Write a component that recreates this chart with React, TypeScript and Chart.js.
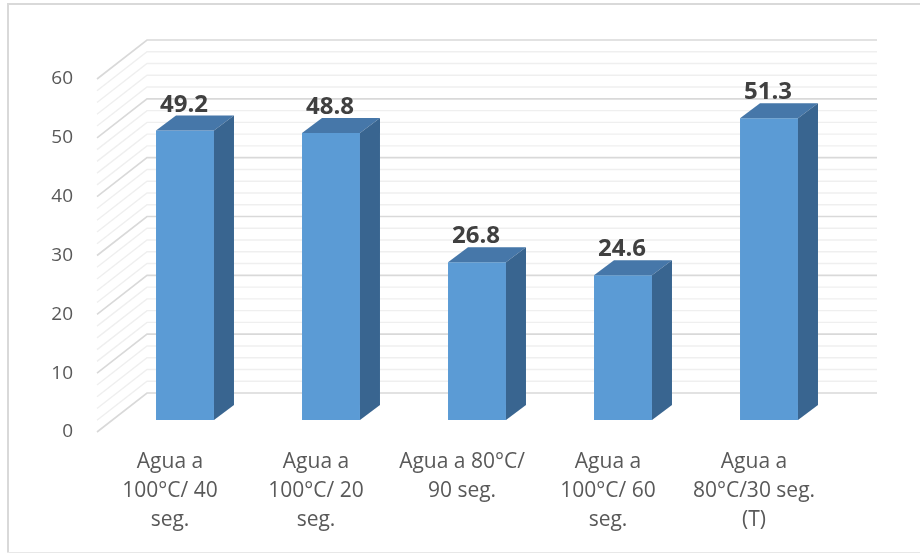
import React, { useEffect, useRef } from "react";
import { Chart, registerables } from "chart.js";

Chart.register(...registerables);

const categories: string[][] = [
  ["Agua a", "100°C/ 40", "seg."],
  ["Agua a", "100°C/ 20", "seg."],
  ["Agua a 80°C/", "90 seg."],
  ["Agua a", "100°C/ 60", "seg."],
  ["Agua a", "80°C/30 seg.", "(T)"],
];
const values: number[] = [49.2, 48.8, 26.8, 24.6, 51.3];
const yMin = 0;
const yMax = 60;
const majorStep = 10;
const minorStep = 2;

// 3D geometry (pixels)
const WALL_DX = 50;
const WALL_DY = -39;
const BAR_DX = 15;
const BAR_DY = -12;
const SIDE_DX = 20;
const SIDE_DY = -15;

const FRONT_COLOR = "#5B9BD5";
const TOP_COLOR = "#4677A9";
const SIDE_COLOR = "#396590";

const threeDPlugin = {
  id: "threeD",
  beforeDraw(chart: any) {
    const { ctx } = chart;
    ctx.save();
    ctx.fillStyle = "#FFFFFF";
    ctx.fillRect(0, 0, chart.width, chart.height);
    ctx.fillStyle = "#D9D9D9";
    ctx.fillRect(7, 3, chart.width - 7, 2);
    ctx.fillRect(7, 3, 2, 550);
    ctx.fillStyle = "#E8E8E8";
    ctx.fillRect(7, 552, chart.width - 7, 1);
    ctx.restore();
  },
  beforeDatasetsDraw(chart: any) {
    const { ctx, chartArea } = chart;
    const y = chart.scales.y;
    ctx.save();
    for (let v = yMin; v <= yMax; v += minorStep) {
      const major = v % majorStep === 0;
      const py = y.getPixelForValue(v);
      ctx.strokeStyle = major ? "#D9D9D9" : "#EFEFEF";
      ctx.lineWidth = major ? 1.6 : 1.4;
      ctx.beginPath();
      ctx.moveTo(chartArea.left, py);
      ctx.lineTo(chartArea.left + WALL_DX, py + WALL_DY);
      ctx.lineTo(chartArea.right + WALL_DX, py + WALL_DY);
      ctx.stroke();
    }
    ctx.restore();
    ctx.save();
    ctx.translate(BAR_DX, BAR_DY);
  },
  afterDatasetsDraw(chart: any) {
    const { ctx } = chart;
    const meta = chart.getDatasetMeta(0);
    meta.data.forEach((bar: any) => {
      const { x, y, width, base } = bar.getProps(["x", "y", "width", "base"], true);
      const l = x - width / 2;
      const r = x + width / 2;
      ctx.fillStyle = TOP_COLOR;
      ctx.beginPath();
      ctx.moveTo(l, y);
      ctx.lineTo(r, y);
      ctx.lineTo(r + SIDE_DX, y + SIDE_DY);
      ctx.lineTo(l + SIDE_DX, y + SIDE_DY);
      ctx.closePath();
      ctx.fill();
      ctx.fillStyle = SIDE_COLOR;
      ctx.beginPath();
      ctx.moveTo(r, y);
      ctx.lineTo(r, base);
      ctx.lineTo(r + SIDE_DX, base + SIDE_DY);
      ctx.lineTo(r + SIDE_DX, y + SIDE_DY);
      ctx.closePath();
      ctx.fill();
    });
    ctx.restore();
    ctx.save();
    ctx.font = 'bold 24px "Open Sans"';
    ctx.fillStyle = "#404040";
    ctx.textAlign = "center";
    ctx.textBaseline = "alphabetic";
    meta.data.forEach((bar: any, i: number) => {
      ctx.fillText(values[i].toFixed(1), bar.x + BAR_DX - 1, bar.y + BAR_DY - 19);
    });
    ctx.restore();
  },
};

export default function App() {
  const ref = useRef<HTMLCanvasElement | null>(null);
  useEffect(() => {
    if (!ref.current) return;
    const chart = new Chart(ref.current, {
      type: "bar",
      data: {
        labels: categories,
        datasets: [
          {
            data: values,
            backgroundColor: FRONT_COLOR,
            borderWidth: 0,
            barPercentage: 0.397,
            categoryPercentage: 1,
          },
        ],
      },
      options: {
        responsive: false,
        animation: false,
        events: [],
        layout: { padding: { left: 0, top: 79, right: 93, bottom: 0 } },
        plugins: {
          legend: { display: false },
          tooltip: { enabled: false },
        },
        scales: {
          x: {
            grid: { display: false, drawTicks: false },
            border: { display: false },
            ticks: {
              color: "#595959",
              font: { family: "Open Sans", size: 21, lineHeight: 1.38 },
              padding: 16,
              maxRotation: 0,
              autoSkip: false,
            },
            afterFit: (s: any) => {
              s.height = 123;
            },
          },
          y: {
            min: yMin,
            max: yMax,
            grid: { display: false, drawTicks: false },
            border: { display: false },
            ticks: {
              stepSize: majorStep,
              color: "#595959",
              font: { family: "Open Sans", size: 19 },
              padding: 24,
            },
            afterFit: (s: any) => {
              s.width = 97;
            },
          },
        },
      },
      plugins: [threeDPlugin],
    });
    return () => chart.destroy();
  }, []);
  return (
    <div style={{ position: "fixed", left: 0, top: 0, width: 920, height: 555, background: "#fff" }}>
      <canvas ref={ref} width={920} height={555} style={{ display: "block" }} />
    </div>
  );
}
